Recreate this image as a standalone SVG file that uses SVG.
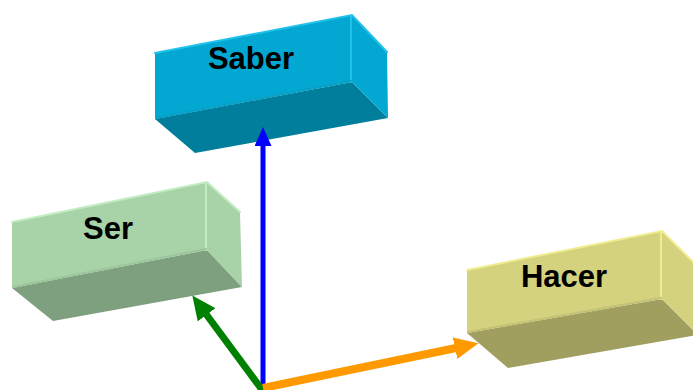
<svg xmlns="http://www.w3.org/2000/svg" width="693" height="390" viewBox="0 0 693 390">
<style>
.lbl{font-family:"Liberation Sans",Arial,sans-serif;font-weight:bold;font-size:31px;fill:#000;text-anchor:middle}
.hl{fill:none;stroke-width:2;stroke-linecap:round}
</style>
<defs>
<marker id="mBlue" markerUnits="userSpaceOnUse" markerWidth="19" markerHeight="17" refX="1" refY="8.5" orient="auto"><path d="M0,0 L19,8.5 L0,17 z" fill="#0000ff"/></marker>
<marker id="mGreen" markerUnits="userSpaceOnUse" markerWidth="24" markerHeight="22" refX="1" refY="11" orient="auto"><path d="M0,0 L24,11 L0,22 z" fill="#008000"/></marker>
<marker id="mOrange" markerUnits="userSpaceOnUse" markerWidth="24" markerHeight="22" refX="1" refY="11" orient="auto"><path d="M0,0 L24,11 L0,22 z" fill="#ff9900"/></marker>
</defs>
<rect width="693" height="390" fill="#fff"/>

<g id="saber">
<polygon points="155,119 352,82 388,118 195,153" fill="#017e9c"/>
<polygon points="352,15 387,52 388,118 352,82" fill="#02a8d2"/>
<polygon points="155,53 352,15 352,82 155,119" fill="#02a8d2"/>
<polyline class="hl" points="155,53 352,15 387,52" stroke="#22c2ea"/>
<line class="hl" x1="351" y1="16" x2="351" y2="82" stroke="#22c2ea"/>
<line class="hl" x1="156" y1="118" x2="351" y2="81" stroke="#0aa0c6"/>
<text class="lbl" x="251" y="69">Saber</text>
</g>

<g id="ser">
<polygon points="12,288 207,250 242,287 53,321" fill="#7fa07f"/>
<polygon points="207,182 240,212 242,287 207,250" fill="#a8d3a8"/>
<polygon points="12,222 207,182 207,250 12,288" fill="#a8d3a8"/>
<polyline class="hl" points="12,222 207,182 240,212" stroke="#c2ecc2"/>
<line class="hl" x1="206" y1="183" x2="206" y2="250" stroke="#c2ecc2"/>
<line class="hl" x1="13" y1="287" x2="206" y2="249" stroke="#9cc59c"/>
<text class="lbl" x="108" y="239">Ser</text>
</g>

<g id="hacer">
<polygon points="467,333 662,299 698,335 508,368" fill="#a09f60"/>
<polygon points="662,231 698,267 698,335 662,299" fill="#d4d27f"/>
<polygon points="467,270 662,231 662,299 467,333" fill="#d4d27f"/>
<polyline class="hl" points="467,270 662,231 698,267" stroke="#efed8e"/>
<line class="hl" x1="661" y1="232" x2="661" y2="299" stroke="#efed8e"/>
<line class="hl" x1="468" y1="332" x2="661" y2="298" stroke="#c3c175"/>
<text class="lbl" x="564" y="287">Hacer</text>
</g>

<g id="connectors" fill="none">
<line x1="263" y1="390" x2="263" y2="145" stroke="#0000ff" stroke-width="5" marker-end="url(#mBlue)"/>
<line x1="263" y1="391" x2="206" y2="314" stroke="#008000" stroke-width="7" marker-end="url(#mGreen)"/>
<line x1="263" y1="388" x2="456" y2="348" stroke="#ff9900" stroke-width="8" marker-end="url(#mOrange)"/>
</g>
</svg>
